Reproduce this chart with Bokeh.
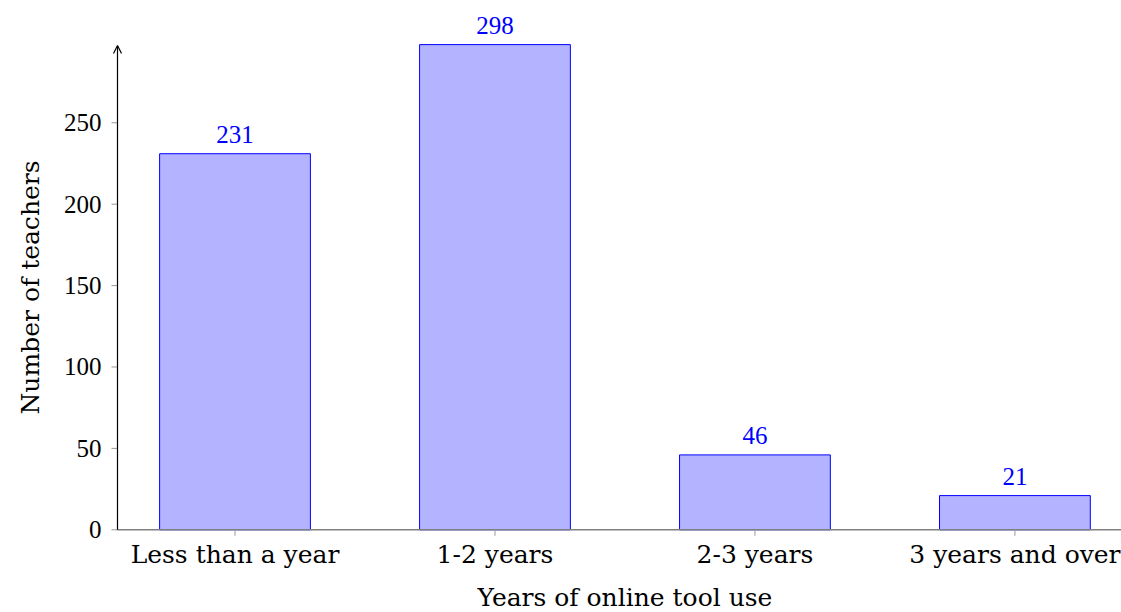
from bokeh.plotting import figure
from bokeh.models import Range1d, FixedTicker, Arrow, OpenHead, ColumnDataSource, Title
from bokeh.core.properties import value
from bokeh.embed import file_html
from bokeh.resources import INLINE

# Survey: how long teachers have been using the online tool
categories = ["Less than a year", "1-2 years", "2-3 years", "3 years and over"]
teachers = [231, 298, 46, 21]
y_ticks = [0, 50, 100, 150, 200, 250]

positions = list(range(len(categories)))
src = ColumnDataSource(dict(x=positions, top=teachers,
                            label=[str(v) for v in teachers]))

TEXT_FONT = "DejaVu Serif"
NUM_FONT = "Liberation Serif"

PX_X = 260.0          # pixels per category step
PX_Y = 1.628          # pixels per teacher
AXIS_X = -0.452       # where the vertical axis sits, in data units
x_lo, x_hi = AXIS_X - 10 / PX_X, 3.41
y_lo, y_hi = -50.8, 325.1
Y_ARROW = 297.5       # tip of the vertical axis arrow

p = figure(width=1121, height=612, output_backend="svg", toolbar_location=None,
           x_axis_location=None,
           x_range=Range1d(x_lo, x_hi), y_range=Range1d(y_lo, y_hi),
           min_border_left=107, min_border_right=0,
           min_border_top=0, min_border_bottom=0)
p.outline_line_color = None
p.xgrid.grid_line_color = None
p.ygrid.grid_line_color = None

p.vbar(x="x", top="top", width=0.58, bottom=0, source=src,
       fill_color="#b3b3ff", line_color="#0000ff", line_width=1)

p.text(x="x", y="top", text="label", source=src, y_offset=-19,
       text_align="center", text_baseline="alphabetic",
       text_font=value(NUM_FONT), text_font_size="25px", text_color="#0000ff")

# horizontal axis: line, ticks, category names and title
p.segment(x0=[AXIS_X], y0=[0], x1=[x_hi], y1=[0], line_color="#808080", line_width=1.5)
p.segment(x0=positions, y0=[0] * len(positions), x1=positions,
          y1=[-6 / PX_Y] * len(positions), line_color="#999999", line_width=1)
p.text(x=positions, y=[0] * len(positions), text=categories, y_offset=25,
       text_align="center", text_baseline="alphabetic",
       text_font=value(TEXT_FONT), text_font_size="25px", text_color="#000000")
p.text(x=[(positions[0] + positions[-1]) / 2], y=[0], text=["Years of online tool use"],
       y_offset=68, text_align="center", text_baseline="alphabetic",
       text_font=value(TEXT_FONT), text_font_size="25px", text_color="#000000")

# vertical axis: ticks and line with arrowhead
tick_len = 6 / PX_X
p.segment(x0=[AXIS_X - tick_len] * len(y_ticks), y0=y_ticks,
          x1=[AXIS_X] * len(y_ticks), y1=y_ticks, line_color="#999999", line_width=1)
p.add_layout(Arrow(x_start=AXIS_X, y_start=0, x_end=AXIS_X, y_end=Y_ARROW,
                   line_color="#000000", line_width=1.2,
                   end=OpenHead(size=8, line_color="#000000", line_width=1.2)))

# y axis numbers
ya = p.yaxis[0]
ya.ticker = FixedTicker(ticks=y_ticks)
ya.minor_tick_line_color = None
ya.major_tick_line_color = None
ya.major_tick_in = 0
ya.major_tick_out = 0
ya.axis_line_color = None
ya.major_label_text_font = NUM_FONT
ya.major_label_text_font_size = "25px"
ya.major_label_text_color = "#000000"
ya.major_label_standoff = 6

# y axis title, anchored at its lower end
p.add_layout(Title(text="Number of teachers", align="left", offset=612 - 414,
                   vertical_align="top", standoff=28,
                   text_font=TEXT_FONT, text_font_size="25px",
                   text_font_style="normal", text_color="#000000"), "left")

open("out.html", "w").write(file_html(p, INLINE))
